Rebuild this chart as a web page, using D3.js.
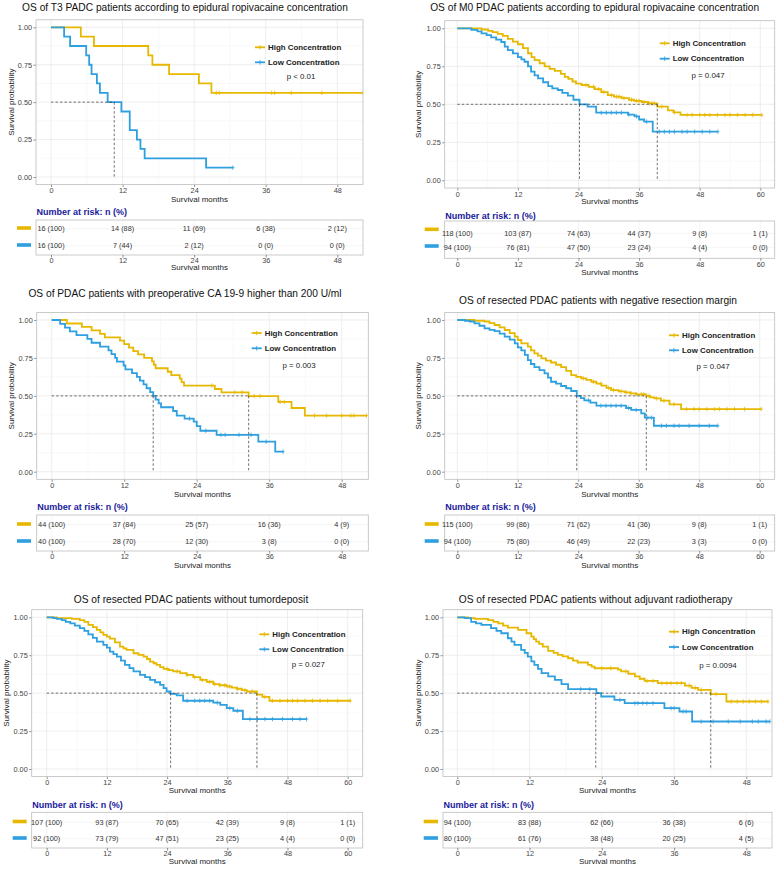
<!DOCTYPE html>
<html><head><meta charset="utf-8">
<script src="https://cdn.jsdelivr.net/npm/d3@7"></script>
<style>body{margin:0;background:#fff} text{font-family:"Liberation Sans",Arial,sans-serif}</style>
</head><body><svg id="c" width="777" height="869"></svg>
<script>
// ---------------- DATA ----------------
const groups = ["High Concentration", "Low Concentration"];

// Panel 1
const p1Title = "OS of T3 PADC patients according to epidural ropivacaine concentration";
const p1Ticks = [0, 12, 24, 36, 48];
const p1High = [[0,1],[5.0,0.9375],[7.2,0.875],[16.3,0.8125],[17.0,0.75],[19.8,0.6875],[24.8,0.625],[26.9,0.5625]];
const p1HighEnd = 52.3;
const p1HighCens = [27.7,28.2,37.0,37.5,40.3,45.4,52.3];
const p1Low = [[0,1],[2.2,0.9375],[3.2,0.875],[5.9,0.8125],[6.4,0.75],[6.8,0.6875],[7.7,0.625],[8.2,0.5625],[9.5,0.5],[11.8,0.4375],[13.2,0.3125],[14.4,0.25],[15.0,0.1875],[15.7,0.125],[26.0,0.0625]];
const p1LowEnd = 30.5;
const p1LowCens = [30.5];
const p1Medians = [10.6];
const p1P = "p < 0.01";
const p1RiskHigh = ["16 (100)","14 (88)","11 (69)","6 (38)","2 (12)"];
const p1RiskLow = ["16 (100)","7 (44)","2 (12)","0 (0)","0 (0)"];

// Panel 2
const p2Title = "OS of M0 PDAC patients according to epidural ropivacaine concentration";
const p2Ticks = [0, 12, 24, 36, 48, 60];
const p2High = [[0,1],[4.8,0.992],[6.1,0.983],[7.0,0.975],[8.0,0.963],[9.0,0.95],[10.0,0.93],[11.0,0.912],[12.0,0.895],[13.0,0.87],[14.0,0.836],[14.7,0.81],[15.3,0.79],[16.3,0.77],[17.3,0.75],[18.3,0.733],[19.3,0.72],[20.5,0.7],[21.3,0.68],[22.0,0.667],[22.8,0.65],[23.5,0.636],[24.6,0.627],[26.0,0.615],[27.2,0.6],[28.5,0.58],[29.8,0.56],[31.0,0.55],[32.5,0.54],[34.0,0.53],[35.0,0.522],[36.5,0.515],[37.8,0.506],[39.6,0.485],[41.7,0.46],[42.8,0.447],[44.2,0.43]];
const p2HighEnd = 60.3;
const p2HighCens = [25.5,27,28,29,30.5,31.5,32,33,34.5,35.5,36,37,38,38.5,39,40.5,43,45.5,46.5,48,49,50,51.5,53,54,55.5,57,58.5,60.3];
const p2Low = [[0,1],[2.8,0.99],[4.0,0.98],[4.8,0.967],[5.8,0.955],[6.7,0.94],[7.7,0.925],[8.7,0.91],[9.4,0.88],[10.0,0.857],[11.0,0.835],[12.0,0.81],[12.7,0.795],[13.3,0.78],[14.0,0.75],[14.6,0.715],[15.3,0.69],[16.0,0.67],[17.0,0.645],[18.0,0.62],[18.8,0.605],[19.9,0.594],[20.8,0.575],[21.9,0.557],[23.0,0.53],[24.2,0.5],[25.8,0.485],[27.5,0.445],[33.8,0.432],[35.1,0.42],[36.0,0.4],[37.0,0.386],[38.7,0.32]];
const p2LowEnd = 51.6;
const p2LowCens = [28.5,29.5,30.5,31.5,32.5,34,35.5,37.5,40,41,42,43,44.5,45.5,47,48.5,50,51.6];
const p2Medians = [24.2, 39.6];
const p2P = "p = 0.047";
const p2RiskHigh = ["118 (100)","103 (87)","74 (63)","44 (37)","9 (8)","1 (1)"];
const p2RiskLow = ["94 (100)","76 (81)","47 (50)","23 (24)","4 (4)","0 (0)"];

// Panel 3
const p3Title = "OS of PDAC patients with preoperative CA 19-9 higher than 200 U/ml";
const p3Ticks = [0, 12, 24, 36, 48];
const p3High = [[0,1],[2.5,0.977],[5.0,0.955],[6.6,0.932],[8.0,0.909],[8.8,0.886],[11.3,0.864],[12.0,0.841],[12.8,0.818],[13.5,0.795],[14.3,0.773],[15.3,0.75],[16.6,0.727],[16.9,0.705],[17.2,0.682],[19.2,0.659],[19.8,0.636],[21.2,0.614],[21.5,0.591],[21.9,0.568],[27.0,0.545],[28.1,0.523],[32.6,0.498],[37.5,0.46],[39.7,0.42],[41.9,0.37]];
const p3HighEnd = 52.1;
const p3HighCens = [26.5,30.3,31.5,33.5,34.5,37.8,38.5,43.5,45.5,48,49.5,50,52.1];
const p3Low = [[0,1],[1.4,0.975],[2.2,0.95],[3.0,0.925],[4.1,0.9],[5.9,0.875],[6.6,0.85],[8.0,0.825],[9.4,0.8],[9.9,0.775],[10.5,0.75],[10.8,0.725],[11.9,0.7],[12.2,0.675],[13.3,0.65],[14.1,0.625],[14.6,0.6],[15.2,0.575],[15.7,0.55],[16.3,0.525],[16.8,0.5],[17.2,0.475],[17.7,0.45],[18.1,0.425],[20.1,0.4],[20.7,0.37],[22.0,0.35],[23.5,0.33],[24.0,0.3],[24.6,0.27],[27.3,0.243],[34.2,0.198],[37.0,0.132]];
const p3LowEnd = 38.3;
const p3LowCens = [22.8,25.5,28.0,28.7,31.0,33.0,35.5,38.3];
const p3Medians = [16.8, 32.6];
const p3P = "p = 0.003";
const p3RiskHigh = ["44 (100)","37 (84)","25 (57)","16 (36)","4 (9)"];
const p3RiskLow = ["40 (100)","28 (70)","12 (30)","3 (8)","0 (0)"];

// Panel 4
const p4Title = "OS of resected PDAC patients with negative resection margin";
const p4Ticks = [0, 12, 24, 36, 48, 60];
const p4High = [[0,1],[3.4,0.995],[5.4,0.99],[6.4,0.98],[7.4,0.967],[8.4,0.952],[9.4,0.934],[10.4,0.913],[11.4,0.89],[12.0,0.868],[12.7,0.846],[14.0,0.824],[14.6,0.8],[15.3,0.78],[16.0,0.765],[16.7,0.747],[17.6,0.732],[18.6,0.72],[19.6,0.705],[20.6,0.69],[21.6,0.665],[22.6,0.637],[23.6,0.625],[24.6,0.615],[25.6,0.605],[26.6,0.593],[27.6,0.58],[28.6,0.567],[29.6,0.552],[30.5,0.538],[32.0,0.53],[33.2,0.523],[34.3,0.516],[35.5,0.51],[37.5,0.5],[38.3,0.49],[39.1,0.483],[40.4,0.468],[42.1,0.444],[44.4,0.413]];
const p4HighEnd = 60.3;
const p4HighCens = [25,27,28.5,30,31,32.5,33.5,34.5,35.5,36.5,37,38,39.5,41,43,45.5,47,48,49.5,51,52,53.5,55,57,60.3];
const p4Low = [[0,1],[1.5,0.995],[2.5,0.99],[3.4,0.978],[4.4,0.962],[5.4,0.945],[6.4,0.935],[7.4,0.927],[8.4,0.91],[9.4,0.89],[10.4,0.87],[11.4,0.846],[12.0,0.82],[12.7,0.8],[13.4,0.77],[14.0,0.736],[14.6,0.71],[15.3,0.69],[16.3,0.67],[17.3,0.648],[18.0,0.62],[18.6,0.593],[19.6,0.58],[20.6,0.565],[21.6,0.55],[22.6,0.532],[23.7,0.5],[24.5,0.485],[25.2,0.47],[26.4,0.455],[27.6,0.435],[33.5,0.42],[34.5,0.407],[36.5,0.385],[37.2,0.356],[39.0,0.303]];
const p4LowEnd = 51.7;
const p4LowCens = [26,28.5,29.5,30.5,31.5,32.5,34,35.5,37.8,38.5,40.5,41.5,43,44,46,48,50,51.7];
const p4Medians = [23.7, 37.5];
const p4P = "p = 0.047";
const p4RiskHigh = ["115 (100)","99 (86)","71 (62)","41 (36)","9 (8)","1 (1)"];
const p4RiskLow = ["94 (100)","75 (80)","46 (49)","22 (23)","3 (3)","0 (0)"];

// Panel 5
const p5Title = "OS of resected PDAC patients without tumordeposit";
const p5Ticks = [0, 12, 24, 36, 48, 60];
const p5High = [[0,1],[2.0,0.995],[5.0,0.99],[6.6,0.982],[7.5,0.97],[8.3,0.95],[9.2,0.935],[10.0,0.917],[10.7,0.9],[11.3,0.884],[12.0,0.872],[12.6,0.86],[13.6,0.835],[14.6,0.807],[15.3,0.795],[15.9,0.785],[17.3,0.763],[18.3,0.752],[19.3,0.741],[20.0,0.725],[20.6,0.708],[21.3,0.697],[21.9,0.686],[22.6,0.672],[23.3,0.66],[24.3,0.652],[25.2,0.643],[26.6,0.632],[27.9,0.62],[29.2,0.605],[30.6,0.588],[31.9,0.575],[33.2,0.559],[34.5,0.552],[35.9,0.544],[36.9,0.537],[37.9,0.529],[38.9,0.52],[39.9,0.511],[41.9,0.49],[43.0,0.475],[44.4,0.45]];
const p5HighEnd = 60.5;
const p5HighCens = [24,26,28,29.5,31,32.5,33.5,34.5,35.5,36.5,38,39.5,41,43.5,45,46.5,48,49,50,51.5,53,54.5,56,58,60.5];
const p5Low = [[0,1],[1.3,0.995],[2.0,0.99],[3.0,0.982],[3.8,0.97],[4.7,0.96],[5.6,0.945],[6.6,0.928],[7.5,0.91],[8.3,0.888],[9.2,0.865],[10.0,0.84],[11.3,0.818],[12.0,0.8],[12.6,0.774],[13.3,0.757],[14.0,0.741],[14.8,0.715],[15.6,0.686],[16.5,0.665],[17.3,0.643],[18.6,0.62],[19.6,0.605],[20.6,0.588],[21.6,0.572],[22.6,0.555],[23.3,0.533],[23.9,0.511],[24.7,0.495],[25.9,0.485],[27.2,0.45],[33.2,0.437],[34.6,0.423],[35.9,0.401],[37.2,0.384],[39.1,0.329]];
const p5LowEnd = 51.8;
const p5LowCens = [28,29.5,30.5,31.5,32.5,34,36.5,38,40.5,42,43.5,45,47,49,50.5,51.8];
const p5Medians = [24.7, 41.9];
const p5P = "p = 0.027";
const p5RiskHigh = ["107 (100)","93 (87)","70 (65)","42 (39)","9 (8)","1 (1)"];
const p5RiskLow = ["92 (100)","73 (79)","47 (51)","23 (25)","4 (4)","0 (0)"];

// Panel 6
const p6Title = "OS of resected PDAC patients without adjuvant radiotherapy";
const p6Ticks = [0, 12, 24, 36, 48];
const p6High = [[0,1],[1.8,0.995],[2.9,0.99],[5.1,0.982],[6.0,0.97],[6.8,0.96],[7.6,0.945],[8.4,0.932],[10.1,0.917],[11.5,0.895],[12.3,0.873],[12.7,0.856],[13.1,0.84],[13.6,0.825],[14.2,0.807],[15.1,0.779],[16.0,0.765],[16.7,0.752],[17.5,0.742],[18.4,0.73],[19.2,0.715],[20.0,0.702],[21.7,0.686],[22.3,0.675],[22.8,0.664],[26.7,0.655],[27.2,0.643],[28.4,0.628],[29.5,0.61],[30.3,0.595],[31.1,0.581],[33.3,0.566],[37.8,0.55],[38.9,0.535],[40.0,0.522],[42.1,0.493],[44.7,0.445]];
const p6HighEnd = 51.6;
const p6HighCens = [24,25.5,28,31.5,32.5,34,34.8,35.5,36.5,37.2,38.5,39.5,40.5,43,45.5,46.5,47.5,48.5,49.5,50.5,51.6];
const p6Low = [[0,1],[1.2,0.995],[2.3,0.97],[3.1,0.96],[4.0,0.95],[5.6,0.928],[6.5,0.91],[7.3,0.895],[8.4,0.862],[9.0,0.84],[9.5,0.818],[10.6,0.785],[11.2,0.765],[11.7,0.741],[12.3,0.71],[12.8,0.686],[13.4,0.66],[14.0,0.632],[15.1,0.61],[16.2,0.588],[17.3,0.559],[18.4,0.526],[23.1,0.5],[23.9,0.478],[26.1,0.456],[27.8,0.434],[34.4,0.401],[36.9,0.379],[39.0,0.313]];
const p6LowEnd = 51.9;
const p6LowCens = [20.5,22,27,29.5,30,30.8,31.5,32.5,35.5,36,37.5,38,40.5,42.5,45,47,49,50,51.3,51.9];
const p6Medians = [23.0, 42.1];
const p6P = "p = 0.0094";
const p6RiskHigh = ["94 (100)","83 (88)","62 (66)","36 (38)","6 (6)"];
const p6RiskLow = ["80 (100)","61 (76)","38 (48)","20 (25)","4 (5)"];

const yTicks = [0, 0.25, 0.5, 0.75, 1];
const riskHeader = "Number at risk: n (%)";
const xTitle = "Survival months";
const yTitle = "Survival probability";

// ---------------- LAYOUT / DRAW ----------------
const HI = "#E7B800", LO = "#2E9FDF";
const svg = d3.select("#c");

const panels = [
 {title:p1Title, ticks:p1Ticks, hi:p1High, hiEnd:p1HighEnd, hiC:p1HighCens, lo:p1Low, loEnd:p1LowEnd, loC:p1LowCens, med:p1Medians, p:p1P, rh:p1RiskHigh, rl:p1RiskLow,
  L:{tx:185, ty:7.5, left:36, right:363, top:19.8, bottom:184.5, x0:51, xl:337.3, y1:27.3, y0:177, ylabX:11.7, tickY:190.6, xlabY:199, legX:255, legY:[47.3,62.3], pX:301, pY:76, rHeadY:211.7, rTop:220, rBot:255, rRows:[228.7,245.7], rMarkX:[17,31], rMarkY:[228,245], rTickY:260, rLabY:267.7}},
 {title:p2Title, ticks:p2Ticks, hi:p2High, hiEnd:p2HighEnd, hiC:p2HighCens, lo:p2Low, loEnd:p2LowEnd, loC:p2LowCens, med:p2Medians, p:p2P, rh:p2RiskHigh, rl:p2RiskLow,
  L:{tx:594.7, ty:7.5, left:444.7, right:774.7, top:20.7, bottom:188, x0:457.3, xl:760.3, y1:28.3, y0:180.3, ylabX:418, tickY:194, xlabY:201.5, legX:659.7, legY:[43.3,58.7], pX:708, pY:75.3, rHeadY:215.7, rTop:221, rBot:258.3, rRows:[233.3,247.3], rMarkX:[424.7,438.7], rMarkY:[229.3,246], rTickY:264.3, rLabY:272.7}},
 {title:p3Title, ticks:p3Ticks, hi:p3High, hiEnd:p3HighEnd, hiC:p3HighCens, lo:p3Low, loEnd:p3LowEnd, loC:p3LowCens, med:p3Medians, p:p3P, rh:p3RiskHigh, rl:p3RiskLow,
  L:{tx:185, ty:293.3, left:36.7, right:368.3, top:312.4, bottom:479.3, x0:51.7, xl:341.7, y1:320, y0:471.7, ylabX:11.7, tickY:485.8, xlabY:494, legX:251.7, legY:[333,348.3], pX:299, pY:365, rHeadY:507.3, rTop:515, rBot:551, rRows:[524.7,541.7], rMarkX:[17,31], rMarkY:[524,541], rTickY:556.7, rLabY:565}},
 {title:p4Title, ticks:p4Ticks, hi:p4High, hiEnd:p4HighEnd, hiC:p4HighCens, lo:p4Low, loEnd:p4LowEnd, loC:p4LowCens, med:p4Medians, p:p4P, rh:p4RiskHigh, rl:p4RiskLow,
  L:{tx:598, ty:300, left:444.7, right:774.7, top:312.4, bottom:479.3, x0:457.3, xl:759.7, y1:320, y0:471.7, ylabX:418, tickY:485.8, xlabY:494, legX:669, legY:[335.3,350.3], pX:713, pY:366.3, rHeadY:507.3, rTop:515, rBot:551, rRows:[524.7,541.7], rMarkX:[424.7,438.7], rMarkY:[524,541], rTickY:556, rLabY:565}},
 {title:p5Title, ticks:p5Ticks, hi:p5High, hiEnd:p5HighEnd, hiC:p5HighCens, lo:p5Low, loEnd:p5LowEnd, loC:p5LowCens, med:p5Medians, p:p5P, rh:p5RiskHigh, rl:p5RiskLow,
  L:{tx:191, ty:599, left:31.7, right:362.7, top:609.7, bottom:776.6, x0:46.7, xl:347.7, y1:617.3, y0:769, ylabX:6.5, tickY:783, xlabY:790.7, legX:259.3, legY:[634.3,649.3], pX:308.3, pY:664, rHeadY:804.7, rTop:812.3, rBot:848, rRows:[822.3,838.7], rMarkX:[12.7,26.7], rMarkY:[821.5,838], rTickY:853.3, rLabY:861.3}},
 {title:p6Title, ticks:p6Ticks, hi:p6High, hiEnd:p6HighEnd, hiC:p6HighCens, lo:p6Low, loEnd:p6LowEnd, loC:p6LowCens, med:p6Medians, p:p6P, rh:p6RiskHigh, rl:p6RiskLow,
  L:{tx:595.5, ty:599, left:443, right:772, top:609.7, bottom:776.6, x0:457.3, xl:746.3, y1:617.3, y0:769, ylabX:418, tickY:783, xlabY:790.7, legX:669, legY:[631.7,647], pX:718, pY:665.3, rHeadY:804.7, rTop:812.3, rBot:848, rRows:[822.3,838.7], rMarkX:[423.7,438], rMarkY:[821.5,838], rTickY:853.3, rLabY:861.3}}
];

function stepPoints(steps, end) {
  const pts = [[steps[0][0], steps[0][1]]];
  for (let i = 1; i < steps.length; i++) {
    pts.push([steps[i][0], steps[i-1][1]]);
    pts.push([steps[i][0], steps[i][1]]);
  }
  pts.push([end, steps[steps.length-1][1]]);
  return pts;
}
function survAt(steps, t) {
  let s = 1;
  for (const st of steps) { if (st[0] <= t) s = st[1]; }
  return s;
}

panels.forEach((P, idx) => {
  const L = P.L;
  const tMax = P.ticks[P.ticks.length-1];
  const x = d3.scaleLinear().domain([0, tMax]).range([L.x0, L.xl]);
  const y = d3.scaleLinear().domain([0, 1]).range([L.y0, L.y1]);
  const g = svg.append("g");
  const clipId = "clip" + idx;
  svg.append("clipPath").attr("id", clipId).append("rect")
    .attr("x", L.left).attr("y", L.top).attr("width", L.right - L.left).attr("height", L.bottom - L.top);

  // title
  g.append("text").attr("x", L.tx).attr("y", L.ty).attr("text-anchor", "middle")
    .attr("dominant-baseline", "central").attr("font-size", 10.2).attr("fill", "#111").text(P.title);

  // grid
  const step = P.ticks[1] - P.ticks[0];
  const xMinor = [];
  for (let t = -step/2; t <= x.invert(L.right); t += step) if (x(t) > L.left && x(t) < L.right) xMinor.push(t);
  const yMinor = [0.125, 0.375, 0.625, 0.875].filter(v => y(v) > L.top && y(v) < L.bottom);
  const grid = g.append("g");
  grid.selectAll(".xm").data(xMinor).join("line").attr("x1", d => x(d)).attr("x2", d => x(d))
    .attr("y1", L.top).attr("y2", L.bottom).attr("stroke", "#f3f3f3").attr("stroke-width", 0.5);
  grid.selectAll(".ym").data(yMinor).join("line").attr("y1", d => y(d)).attr("y2", d => y(d))
    .attr("x1", L.left).attr("x2", L.right).attr("stroke", "#f3f3f3").attr("stroke-width", 0.5);
  grid.selectAll(".xM").data(P.ticks).join("line").attr("x1", d => x(d)).attr("x2", d => x(d))
    .attr("y1", L.top).attr("y2", L.bottom).attr("stroke", "#e6e6e6").attr("stroke-width", 0.7);
  grid.selectAll(".yM").data(yTicks).join("line").attr("y1", d => y(d)).attr("y2", d => y(d))
    .attr("x1", L.left).attr("x2", L.right).attr("stroke", "#e6e6e6").attr("stroke-width", 0.7);

  // axes
  const xa = g.append("g").attr("transform", `translate(0,${L.bottom})`)
    .call(d3.axisBottom(x).tickValues(P.ticks).tickSize(2.5).tickPadding(2));
  const ya = g.append("g").attr("transform", `translate(${L.left},0)`)
    .call(d3.axisLeft(y).tickValues(yTicks).tickFormat(d3.format(".2f")).tickSize(2.5).tickPadding(1.5));
  [xa, ya].forEach(a => {
    a.select(".domain").remove();
    a.selectAll("line").attr("stroke", "#444").attr("stroke-width", 0.6);
    a.selectAll("text").attr("font-size", 7.3).attr("fill", "#444").attr("font-family", "Liberation Sans, Arial, sans-serif");
  });
  xa.selectAll("text").attr("dy", null).attr("y", L.tickY - L.bottom).attr("dominant-baseline", "central");

  g.append("text").attr("x", (L.left + L.right) / 2).attr("y", L.xlabY).attr("text-anchor", "middle")
    .attr("dominant-baseline", "central").attr("font-size", 8).attr("fill", "#222").text(xTitle);
  g.append("text").attr("transform", `translate(${L.ylabX},${(L.top + L.bottom) / 2}) rotate(-90)`)
    .attr("text-anchor", "middle").attr("dominant-baseline", "central").attr("font-size", 8).attr("fill", "#222").text(yTitle);

  // curves
  const line = d3.line().x(d => x(d[0])).y(d => y(d[1]));
  const cg = g.append("g").attr("clip-path", `url(#${clipId})`);
  [[P.hi, P.hiEnd, P.hiC, HI], [P.lo, P.loEnd, P.loC, LO]].forEach(([st, end, cens, col]) => {
    cg.append("path").attr("d", line(stepPoints(st, end))).attr("fill", "none")
      .attr("stroke", col).attr("stroke-width", 1.8);
    cens.forEach(t => {
      const cx = x(t), cy = y(survAt(st, t));
      cg.append("path").attr("d", `M${cx},${cy-2.2}V${cy+2.2}M${cx-1.6},${cy}H${cx+1.6}`)
        .attr("stroke", col).attr("stroke-width", 0.8);
    });
  });

  // median lines
  const mMax = d3.max(P.med);
  const mg = g.append("g").attr("stroke", "#333").attr("stroke-width", 0.7).attr("stroke-dasharray", "2.5,2");
  mg.append("line").attr("x1", x(0)).attr("x2", x(mMax)).attr("y1", y(0.5)).attr("y2", y(0.5));
  P.med.forEach(m => mg.append("line").attr("x1", x(m)).attr("x2", x(m)).attr("y1", y(0.5)).attr("y2", y(0)));

  // panel border
  g.append("rect").attr("x", L.left).attr("y", L.top).attr("width", L.right - L.left).attr("height", L.bottom - L.top)
    .attr("fill", "none").attr("stroke", "#bdbdbd").attr("stroke-width", 0.8);

  // legend
  [[groups[0], HI, L.legY[0]], [groups[1], LO, L.legY[1]]].forEach(([lab, col, ly]) => {
    g.append("line").attr("x1", L.legX).attr("x2", L.legX + 10).attr("y1", ly).attr("y2", ly)
      .attr("stroke", col).attr("stroke-width", 1.8);
    g.append("path").attr("d", `M${L.legX+5},${ly-2.2}V${ly+2.2}`).attr("stroke", col).attr("stroke-width", 0.9);
    g.append("text").attr("x", L.legX + 13).attr("y", ly).attr("dominant-baseline", "central")
      .attr("font-size", 7.9).attr("font-weight", "bold").attr("fill", "#222").text(lab);
  });
  g.append("text").attr("x", L.pX).attr("y", L.pY).attr("text-anchor", "middle").attr("dominant-baseline", "central")
    .attr("font-size", 7.9).attr("fill", "#222").text(P.p);

  // risk table
  g.append("text").attr("x", L.left + 0.5).attr("y", L.rHeadY).attr("dominant-baseline", "central")
    .attr("font-size", 9).attr("font-weight", "bold").attr("fill", "#1a1a9c").text(riskHeader);
  const rg = g.append("g");
  rg.selectAll(".rv").data(P.ticks).join("line").attr("x1", d => x(d)).attr("x2", d => x(d))
    .attr("y1", L.rTop).attr("y2", L.rBot).attr("stroke", "#eeeeee").attr("stroke-width", 0.6);
  L.rRows.forEach(ry => rg.append("line").attr("x1", L.left).attr("x2", L.right).attr("y1", ry).attr("y2", ry)
    .attr("stroke", "#eeeeee").attr("stroke-width", 0.6));
  rg.append("rect").attr("x", L.left).attr("y", L.rTop).attr("width", L.right - L.left).attr("height", L.rBot - L.rTop)
    .attr("fill", "none").attr("stroke", "#bdbdbd").attr("stroke-width", 0.8);
  [[P.rh, L.rRows[0]], [P.rl, L.rRows[1]]].forEach(([vals, ry]) => {
    rg.selectAll(null).data(vals).join("text").attr("x", (d, i) => x(P.ticks[i])).attr("y", ry)
      .attr("text-anchor", "middle").attr("dominant-baseline", "central").attr("font-size", 7.3).attr("fill", "#333").text(d => d);
  });
  [[HI, L.rMarkY[0]], [LO, L.rMarkY[1]]].forEach(([col, my]) => {
    rg.append("rect").attr("x", L.rMarkX[0]).attr("y", my - 1.8).attr("width", L.rMarkX[1] - L.rMarkX[0]).attr("height", 3.6).attr("fill", col);
  });
  const rx = g.append("g").attr("transform", `translate(0,${L.rBot})`)
    .call(d3.axisBottom(x).tickValues(P.ticks).tickSize(2.5).tickPadding(2));
  rx.select(".domain").remove();
  rx.selectAll("line").attr("stroke", "#444").attr("stroke-width", 0.6);
  rx.selectAll("text").attr("font-size", 7.3).attr("fill", "#444").attr("dy", null)
    .attr("y", L.rTickY - L.rBot).attr("dominant-baseline", "central").attr("font-family", "Liberation Sans, Arial, sans-serif");
  g.append("text").attr("x", (L.left + L.right) / 2).attr("y", L.rLabY).attr("text-anchor", "middle")
    .attr("dominant-baseline", "central").attr("font-size", 8).attr("fill", "#222").text(xTitle);
});
</script>
</body></html>
